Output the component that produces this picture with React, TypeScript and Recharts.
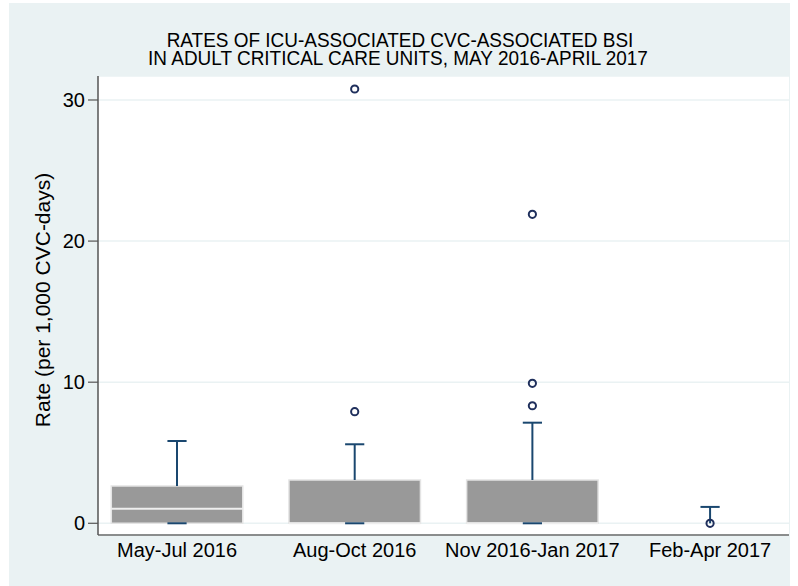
import React from 'react';
import {
  ComposedChart,
  XAxis,
  YAxis,
  CartesianGrid,
  ReferenceArea,
  ReferenceLine,
  Scatter,
} from 'recharts';

const categories = ['May-Jul 2016', 'Aug-Oct 2016', 'Nov 2016-Jan 2017', 'Feb-Apr 2017'];
const q1Values = [0, 0, 0, 0];
const medianValues = [1.03, 0, 0, 0];
const q3Values = [2.64, 3.07, 3.07, 0];
const whiskerLowValues = [0, 0, 0, 0];
const whiskerHighValues = [5.83, 5.6, 7.13, 1.16];
const outlierGroups = [2, 2, 3, 3, 3, 4];
const outlierValues = [7.91, 30.78, 8.33, 9.92, 21.9, 0];
const yTicks = [0, 10, 20, 30];

const titleLines = [
  'RATES OF ICU-ASSOCIATED CVC-ASSOCIATED BSI',
  'IN ADULT CRITICAL CARE UNITS, MAY 2016-APRIL 2017',
];
const yAxisTitle = 'Rate (per 1,000 CVC-days)';

const BG = '#eaf2f3';
const BOX_FILL = '#999999';
const WHISKER = '#1a476f';
const OUTLIER = '#1f2f5c';
const FONT = '"Liberation Sans", Arial, Helvetica, sans-serif';
const BOX_HALF = 0.37;
const CAP_HALF = 0.054;

const outlierData = outlierGroups.map((g, i) => ({ x: g, y: outlierValues[i] }));

const OutlierShape = (props: any) => {
  const { cx, cy } = props;
  if (cx == null || cy == null) return null;
  return <circle cx={cx} cy={cy} r={3.6} fill="none" stroke={OUTLIER} strokeWidth={2} />;
};

export default function App() {
  const boxes: React.ReactNode[] = [];
  categories.forEach((_, i) => {
    const c = i + 1;
    const q1 = q1Values[i];
    const q3 = q3Values[i];
    const hasBox = q3 > q1;
    if (hasBox) {
      boxes.push(
        <ReferenceArea
          key={`box-${i}`}
          x1={c - BOX_HALF}
          x2={c + BOX_HALF}
          y1={q1}
          y2={q3}
          fill={BOX_FILL}
          fillOpacity={1}
          stroke="#e4e4e4"
          strokeWidth={1.5}
          ifOverflow="visible"
        />
      );
      boxes.push(
        <ReferenceLine
          key={`med-${i}`}
          segment={[
            { x: c - BOX_HALF, y: medianValues[i] },
            { x: c + BOX_HALF, y: medianValues[i] },
          ]}
          stroke="#eeeeee"
          strokeWidth={2}
          ifOverflow="visible"
        />
      );
    }
    boxes.push(
      <ReferenceLine
        key={`wh-${i}`}
        segment={[
          { x: c, y: q3 },
          { x: c, y: whiskerHighValues[i] },
        ]}
        stroke={WHISKER}
        strokeWidth={2}
        ifOverflow="visible"
      />
    );
    boxes.push(
      <ReferenceLine
        key={`capH-${i}`}
        segment={[
          { x: c - CAP_HALF, y: whiskerHighValues[i] },
          { x: c + CAP_HALF, y: whiskerHighValues[i] },
        ]}
        stroke={WHISKER}
        strokeWidth={2}
        ifOverflow="visible"
      />
    );
    if (hasBox) {
      if (whiskerLowValues[i] < q1) {
        boxes.push(
          <ReferenceLine
            key={`wl-${i}`}
            segment={[
              { x: c, y: whiskerLowValues[i] },
              { x: c, y: q1 },
            ]}
            stroke={WHISKER}
            strokeWidth={2}
            ifOverflow="visible"
          />
        );
      }
      boxes.push(
        <ReferenceLine
          key={`capL-${i}`}
          segment={[
            { x: c - CAP_HALF, y: whiskerLowValues[i] },
            { x: c + CAP_HALF, y: whiskerLowValues[i] },
          ]}
          stroke={WHISKER}
          strokeWidth={2}
          ifOverflow="visible"
        />
      );
    }
  });

  return (
    <div style={{ position: 'absolute', left: 9, top: 3, width: 781, height: 583, background: BG }}>
      <ComposedChart
        width={781}
        height={583}
        margin={{ top: 73, right: 1, bottom: 0, left: 0 }}
        style={{ fontFamily: FONT }}
      >
        <CartesianGrid horizontal vertical={false} stroke={BG} strokeWidth={1.5} fill="#ffffff" />
        <XAxis
          type="number"
          dataKey="x"
          domain={[0.5553, 4.4442]}
          ticks={[1, 2, 3, 4]}
          tickFormatter={(v: number) => categories[v - 1] ?? ''}
          allowDataOverflow
          height={51}
          tickLine={false}
          tickSize={6}
          tickMargin={2}
          axisLine={{ stroke: '#6a6a6a', strokeWidth: 1.5 }}
          tick={{ fill: '#000000', fontSize: 20, fontFamily: FONT }}
          interval={0}
        />
        <YAxis
          type="number"
          domain={[-0.83, 31.7]}
          ticks={yTicks}
          allowDataOverflow
          width={89}
          tickSize={10}
          tickMargin={3}
          tickLine={{ stroke: '#555555', strokeWidth: 1.2 }}
          axisLine={{ stroke: '#555555', strokeWidth: 1.5 }}
          tick={{ fill: '#000000', fontSize: 20, fontFamily: FONT }}
        />
        {boxes}
        <Scatter
          data={outlierData}
          dataKey="y"
          shape={<OutlierShape />}
          isAnimationActive={false}
        />
      </ComposedChart>
      <svg
        width={781}
        height={583}
        style={{ position: 'absolute', left: 0, top: 0, pointerEvents: 'none' }}
      >
        <text
          transform="translate(391,43.5) scale(0.93,1)"
          textAnchor="middle"
          fontSize={20.4}
          fontFamily={FONT}
          fill="#000000"
        >
          {titleLines[0]}
        </text>
        <text
          transform="translate(389,62) scale(0.93,1)"
          textAnchor="middle"
          fontSize={20.4}
          fontFamily={FONT}
          fill="#000000"
        >
          {titleLines[1]}
        </text>
        <text
          x={0}
          y={0}
          transform="translate(41,297) rotate(-90)"
          textAnchor="middle"
          fontSize={21}
          fontFamily={FONT}
          fill="#000000"
        >
          {yAxisTitle}
        </text>
      </svg>
    </div>
  );
}
